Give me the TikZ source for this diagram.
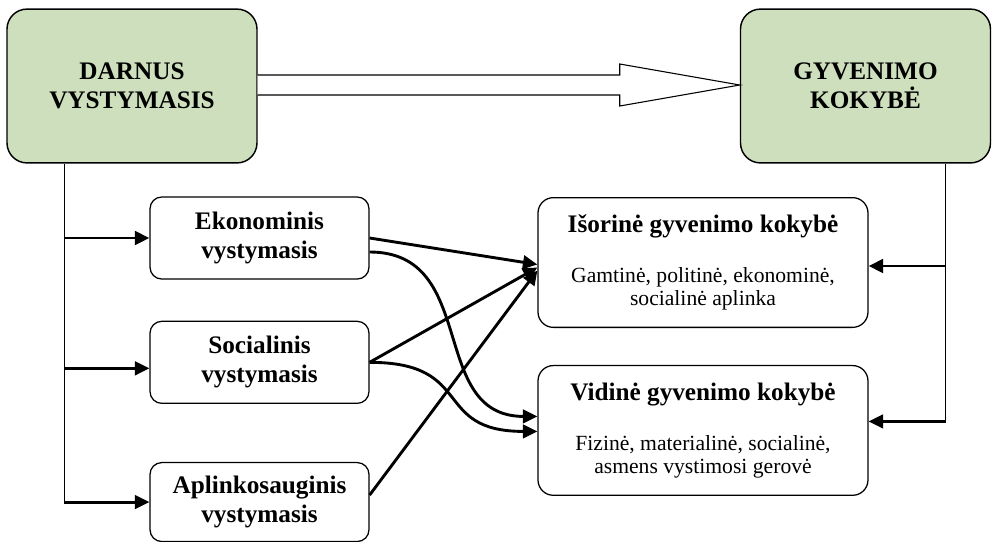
\documentclass[tikz,border=0pt]{standalone}
\usepackage{fontspec}
\setmainfont{Liberation Serif}
\usetikzlibrary{positioning,calc,arrows.meta}
\definecolor{mygreen}{RGB}{205,223,188}
\begin{document}
\begin{tikzpicture}[x=0.0195cm,y=-0.0195cm,inner sep=2pt]
\tikzstyle{main}=[rectangle, rounded corners=0.39cm, draw=black, line width=0.8pt, fill=mygreen, minimum width=4.875cm, minimum height=3.0cm, align=center, font=\bfseries\fontsize{14}{16.1}\selectfont]
\tikzstyle{sub}=[rectangle, rounded corners=0.23cm, draw=black, line width=0.7pt, minimum width=4.27cm, minimum height=1.6cm, align=center, font=\bfseries\fontsize{14}{16.1}\selectfont]
\tikzstyle{qual}=[rectangle, rounded corners=0.3cm, draw=black, line width=0.7pt, minimum width=6.435cm, minimum height=2.53cm, align=center, font=\fontsize{12}{12.8}\selectfont]
\tikzstyle{connect}=[-{Triangle[length=8pt,width=7.5pt]}, line width=1.6pt]
\tikzstyle{trunk}=[line width=0.7pt]
\tikzstyle{big}=[draw=black, line width=0.6pt, fill=white]
\useasboundingbox (0,0) rectangle (992,541);
\node[main] (darnus) at (132,86) {DARNUS\\VYSTYMASIS};
\node[main] (gyv) at (865.5,86) {GYVENIMO\\KOKYBĖ};
\node[sub] (ekon) at (259.5,238) {Ekonominis\\vystymasis};
\node[sub] (soc) [below=0.8cm of ekon] {Socialinis\\vystymasis};
\node[sub] (apl) [below=1.13cm of soc, minimum height=1.54cm] {Aplinkosauginis\\vystymasis};
\node[qual] (isor) at (703,262.5) {\textbf{\fontsize{14}{16.1}\selectfont Išorinė gyvenimo kokybė}\\[15pt]Gamtinė, politinė, ekonominė,\\socialinė aplinka};
\node[qual] (vid) [below=0.72cm of isor] {\textbf{\fontsize{14}{16.1}\selectfont Vidinė gyvenimo kokybė}\\[15pt]Fizinė, materialinė, socialinė,\\asmens vystimosi gerovė};
\draw[big] ($(darnus.east)+(0,-11)$) -- ($(gyv.west)+(-120,-11)$) -- ($(gyv.west)+(-120,-22)$) -- ($(gyv.west)+(0,-1)$) -- ($(gyv.west)+(-120,20)$) -- ($(gyv.west)+(-120,9)$) -- ($(darnus.east)+(0,9)$);
\coordinate (ltop) at ($(darnus.south west)+(58,0)$);
\coordinate (lbot) at (ltop |- apl.west);
\draw[trunk] (ltop) -- (lbot);
\draw[connect] (ltop |- ekon.west) -- (ekon.west);
\draw[connect] ($(ltop |- soc.west)+(0,6)$) -- ($(soc.west)+(0,6)$);
\draw[connect] (lbot) -- (apl.west);
\coordinate (rtop) at ($(gyv.south)+(80,0)$);
\coordinate (rbot) at ($(rtop |- vid.east)+(0,-9)$);
\draw[trunk] (rtop) -- (rbot);
\draw[connect] ($(rtop |- isor.east)+(0,3.5)$) -- ($(isor.east)+(0,3.5)$);
\draw[connect] (rbot) -- ($(vid.east)+(0,-9)$);
\draw[connect] (ekon.east) -- ($(isor.west)+(0,2)$);
\draw[connect] ($(ekon.east)+(0,14)$) to[out=0,in=180,looseness=1.2] ($(vid.west)+(0,-14)$);
\draw[connect] (soc.east) -- ($(isor.west)+(0,5)$);
\draw[connect] (soc.east) to[out=0,in=180,looseness=1.5] ($(vid.west)+(0,1)$);
\draw[connect] ($(apl.east)+(0,-7)$) -- ($(isor.west)+(0,8)$);
\end{tikzpicture}
\end{document}
